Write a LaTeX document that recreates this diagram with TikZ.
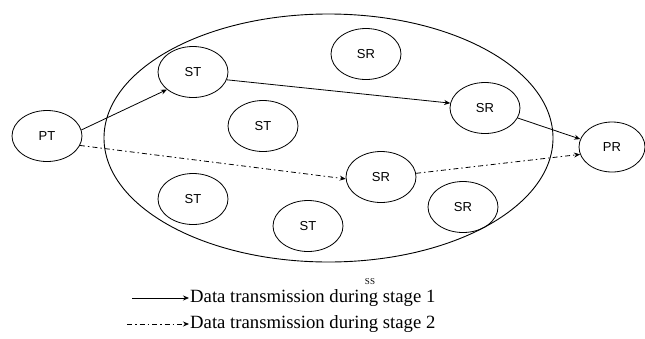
\documentclass[tikz,border=0pt]{standalone}
\usepackage{fontspec}
\setmainfont{Liberation Serif}
\setsansfont{Liberation Sans}
\usetikzlibrary{shapes.geometric,arrows.meta}
\begin{document}
\begin{tikzpicture}[x=1pt,y=-1pt,
  nd/.style={ellipse,draw,line width=0.8pt,minimum width=70pt,minimum height=51pt,inner sep=0pt,
    font=\sffamily\fontsize{13}{15}\selectfont},
  big/.style={ellipse,draw,line width=0.9pt,minimum width=449pt,minimum height=248pt,inner sep=0pt},
  conn/.style={line width=0.8pt,-{Stealth[length=6pt,width=5pt]}},
  dconn/.style={conn,dash pattern=on 5pt off 3pt on 1.5pt off 3pt},
  legtext/.style={anchor=west,inner sep=1pt,font=\fontsize{18.7}{21}\selectfont}]
\useasboundingbox (0,0) rectangle (645,338);
\node[big] (ss) at (328.5,138) {};
\node[nd] (pt) at (47,136) {PT};
\node[nd,minimum width=66pt,minimum height=50pt] (pr) at (612,147) {PR};
\node[nd] (st1) at (193,72) {ST};
\node[nd] (st2) at (263,126) {ST};
\node[nd] (st3) at (193,199) {ST};
\node[nd] (st4) at (308,226) {ST};
\node[nd] (sr1) at (366,54) {SR};
\node[nd] (sr2) at (485,108) {SR};
\node[nd] (sr3) at (381,177) {SR};
\node[nd] (sr4) at (463,207) {SR};
\draw[conn] (pt.10) -- (st1.214);
\draw[conn] (st1.347) -- (sr2.172);
\draw[conn] (sr2.343) -- (pr.166);
\draw[dconn] (pt.344) -- (sr3.183);
\draw[dconn] (sr3.6) -- (pr.193);
\node[font=\fontsize{9}{10}\selectfont,inner sep=0pt] (sslab) at (370,282) {SS};
\coordinate (l1s) at (132,298);
\coordinate (l2s) at (127,324);
\node[legtext] (l1) at (189,298) {Data transmission during stage 1};
\node[legtext] (l2) at (189,324) {Data transmission during stage 2};
\draw[conn] (l1s) -- (l1.west);
\draw[dconn] (l2s) -- (l2.west);
\end{tikzpicture}
\end{document}
